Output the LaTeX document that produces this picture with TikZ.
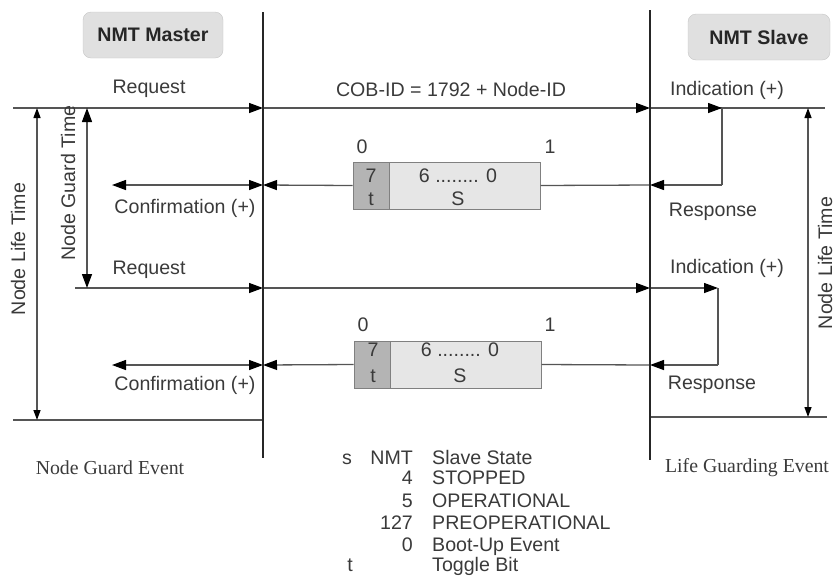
\documentclass[tikz,border=0pt]{standalone}
\usepackage{fontspec}
\setmainfont{Liberation Serif}
\setsansfont{Liberation Sans}
\usetikzlibrary{arrows.meta}
\definecolor{txt}{HTML}{3A3A3A}
\definecolor{lin}{HTML}{555555}
\definecolor{boxfill}{HTML}{E6E6E6}
\definecolor{bitfill}{HTML}{B4B4B4}
\definecolor{titlefill}{HTML}{E0E0E0}
\begin{document}
\begin{tikzpicture}[x=1pt,y=-1pt,
  lbl/.style={font=\sffamily\fontsize{19.6}{22}\selectfont, text=txt, inner sep=0pt},
  ser/.style={font=\rmfamily\fontsize{19.8}{22}\selectfont, text=txt, inner sep=0pt},
  hl/.style={draw=lin, line width=1.3pt},
  arr/.style={hl, -{Triangle[length=14pt,width=10pt,color=black]}},
  darr/.style={hl, {Triangle[length=14pt,width=10pt,color=black]}-{Triangle[length=14pt,width=10pt,color=black]}},
  sarr/.style={hl, {Triangle[length=10pt,width=7pt,color=black]}-{Triangle[length=10pt,width=7pt,color=black]}},
  vmain/.style={draw=black!85, line width=2.6pt},
  titlebox/.style={font=\sffamily\bfseries\fontsize{19.6}{22}\selectfont, text=black!85, draw=gray!45, fill=titlefill, rounded corners=8pt, minimum width=140pt, minimum height=46pt, inner sep=0pt},
  databox/.style={draw=gray, line width=1pt, fill=boxfill, minimum width=187pt, minimum height=47pt, inner sep=0pt},
  bitbox/.style={draw=gray, line width=1pt, fill=bitfill, minimum width=36pt, minimum height=47pt, inner sep=0pt},
]
\useasboundingbox (0,0) rectangle (837,582);

% titles
\node[titlebox] (master) at (153,35) {NMT Master};
\node[titlebox, minimum width=142pt] (slave) at (759,37) {NMT Slave};

% main vertical lines
\coordinate (mT) at (263,12); \coordinate (mB) at (263,458);
\coordinate (sT) at (650,10); \coordinate (sB) at (650,460);

% row 1 coordinates
\coordinate (a1) at (13,108); \coordinate (m1) at (263,108);
\coordinate (s1) at (650,108); \coordinate (i1) at (722,108);
\coordinate (e1) at (825,108);
\coordinate (f1) at (722,185); \coordinate (s1b) at (650,185);
\coordinate (m1b) at (263,185); \coordinate (c1) at (112,185);

% row 2 coordinates
\coordinate (a2) at (75,288); \coordinate (m2) at (263,288);
\coordinate (s2) at (650,288); \coordinate (i2) at (718,288);
\coordinate (f2) at (718,365); \coordinate (s2b) at (650,365);
\coordinate (m2b) at (263,365); \coordinate (c2) at (112,365);

% bottom lines
\coordinate (lb1) at (13,420); \coordinate (lb2) at (263,420);
\coordinate (rb1) at (650,417); \coordinate (rb2) at (827,417);

% time arrows coordinates
\coordinate (lt1) at (37,108); \coordinate (lt2) at (37,420);
\coordinate (gt1) at (87,108); \coordinate (gt2) at (87,288);
\coordinate (rt1) at (808,108); \coordinate (rt2) at (808,417);

% data boxes
\node[databox] (box1) at (446.5,185.5) {};
\node[bitbox, anchor=west] (bit1) at (box1.west) {};
\node[databox] (box2) at (447.5,364.5) {};
\node[bitbox, anchor=west] (bit2) at (box2.west) {};

% horizontal lines row 1
\draw[arr] (a1) -- (m1);
\draw[arr] (m1) -- (s1);
\draw[hl] (s1) -- (e1);
\draw[arr] (s1) -- (i1);
\draw[hl] (i1) -- (f1);
\draw[arr] (f1) -- (s1b);
\draw[hl] (s1b) -- (box1.east);
\draw[arr] (box1.west) -- (m1b);
\draw[darr] (c1) -- (m1b);

% horizontal lines row 2
\draw[arr] (a2) -- (m2);
\draw[arr] (m2) -- (s2);
\draw[arr] (s2) -- (i2);
\draw[hl] (i2) -- (f2);
\draw[arr] (f2) -- (s2b);
\draw[hl] (s2b) -- (box2.east);
\draw[arr] (box2.west) -- (m2b);
\draw[darr] (c2) -- (m2b);

% bottom lines
\draw[hl] (lb1) -- (lb2);
\draw[hl] (rb1) -- (rb2);

% time arrows
\draw[sarr] (lt1) -- (lt2);
\draw[darr] (gt1) -- (gt2);
\draw[sarr] (rt1) -- (rt2);

% main lines on top
\draw[vmain] (mT) -- (mB);
\draw[vmain] (sT) -- (sB);

% box texts
\node[lbl] (b1z) at (362,147) {0};
\node[lbl] (b1o) at (550,147) {1};
\node[lbl] (b1s) at (371,176) {7};
\node[lbl] (b1t) at (371,199) {t};
\node[lbl] (b1r) at (458,176) {6 ........ 0};
\node[lbl] (b1S) at (458,199) {S};

\node[lbl] (b2z) at (363,325) {0};
\node[lbl] (b2o) at (550,325) {1};
\node[lbl] (b2s) at (373,350) {7};
\node[lbl] (b2t) at (373,376) {t};
\node[lbl] (b2r) at (460,350) {6 ........ 0};
\node[lbl] (b2S) at (460,376) {S};

% labels
\node[lbl] (req1) at (149,89) {Request};
\node[lbl] (req2) at (149,270) {Request};
\node[lbl] (cob) at (451,89) {COB-ID = 1792 + Node-ID};
\node[lbl] (ind1) at (727,90) {Indication (+)};
\node[lbl] (ind2) at (727,268) {Indication (+)};
\node[lbl] (res1) at (713,212) {Response};
\node[lbl] (res2) at (712,385) {Response};
\node[lbl] (con1) at (185,208) {Confirmation (+)};
\node[lbl] (con2) at (185,385) {Confirmation (+)};
\node[lbl, rotate=90] (nlt1) at (18,249) {Node Life Time};
\node[lbl, rotate=90] (ngt) at (68,183) {Node Guard Time};
\node[lbl, rotate=90] (nlt2) at (825,263) {Node Life Time};

\node[ser] (nge) at (110,468) {Node Guard Event};
\node[ser] (lge) at (747,468) {Life Guarding Event};

% legend
\node[lbl, anchor=base] (ls) at (347,464) {s};
\node[lbl, anchor=base east] (l0a) at (413,464) {NMT};
\node[lbl, anchor=base west] (l0b) at (432,464) {Slave State};
\node[lbl, anchor=base east] (l1a) at (413,484) {4};
\node[lbl, anchor=base west] (l1b) at (432,484) {STOPPED};
\node[lbl, anchor=base east] (l2a) at (413,507) {5};
\node[lbl, anchor=base west] (l2b) at (432,507) {OPERATIONAL};
\node[lbl, anchor=base east] (l3a) at (413,529) {127};
\node[lbl, anchor=base west] (l3b) at (432,529) {PREOPERATIONAL};
\node[lbl, anchor=base east] (l4a) at (413,551) {0};
\node[lbl, anchor=base west] (l4b) at (432,551) {Boot-Up Event};
\node[lbl, anchor=base] (lt) at (350,571) {t};
\node[lbl, anchor=base west] (l5b) at (432,571) {Toggle Bit};
\end{tikzpicture}
\end{document}
